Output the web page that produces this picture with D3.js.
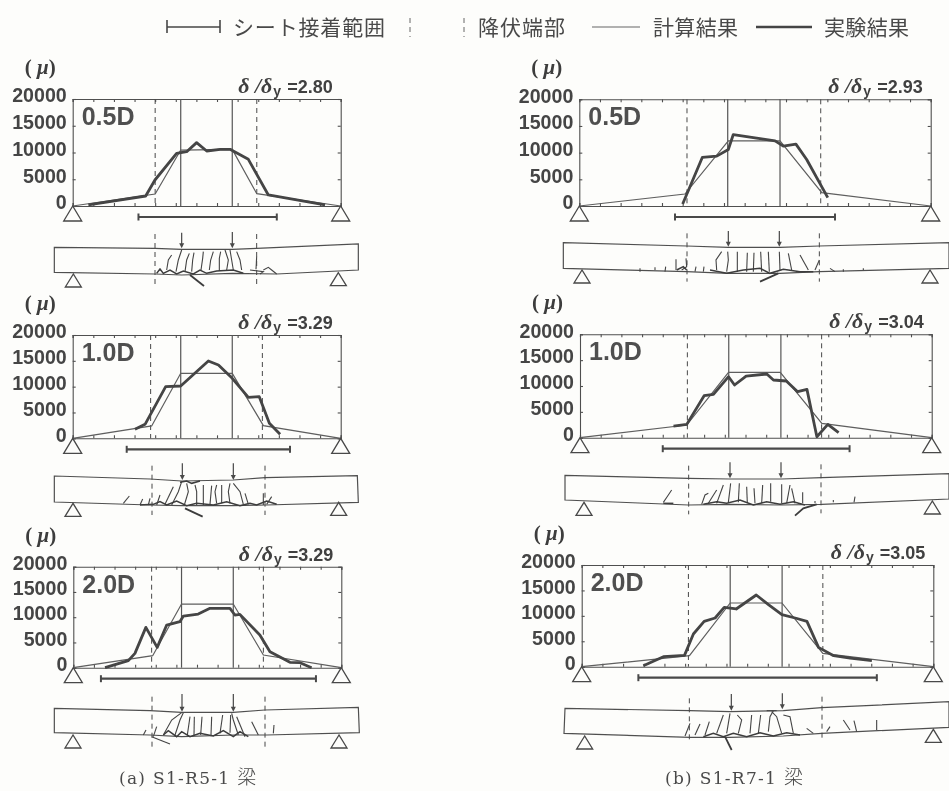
<!DOCTYPE html>
<html>
<head>
<meta charset="utf-8">
<script src="https://cdn.jsdelivr.net/npm/d3@7"></script>
<style>
  html, body { margin: 0; background: #fdfdfb; }
  svg { display: block; }
  .axis .tick text { font: bold 19.6px "Liberation Sans", sans-serif; fill: #454545; }
  .axis path, .axis line { stroke: #505050; stroke-width: 1.1; }
  .unit { font: bold 21px "Liberation Serif", serif; fill: #3c3c3c; }
  .level { font: bold 25px "Liberation Sans", sans-serif; fill: #505050; }
  .ratio { font: bold 18px "Liberation Sans", sans-serif; fill: #3f3f3f; }
  .ratio .greek { font: italic bold 22px "Liberation Serif", serif; }
  .legend-text { font: 21px "Noto Sans CJK JP", sans-serif; fill: #4a4a4a; }
  .caption { font: 17px "DejaVu Serif", serif; fill: #4a4a4a; letter-spacing: 1.3px; }
  .caption .kanji { font: 300 19px "Noto Sans CJK JP", sans-serif; }
</style>
</head>
<body>
<div id="chart"></div>
<script>
// strain readings, x in tick intervals along the span, y in micro strain
const yTicks = [0, 5000, 10000, 15000, 20000]

const calcA1 = [[0,0],[4,2240],[5.24,10460],[7.74,10580],[8.93,2300],[13,0]]
const expA1 = [[.76,190],[3.54,1870],[3.99,4860],[5.04,9840],[5.53,10150],[6.01,11840],[6.5,10280],[7.15,10590],[7.63,10590],[8.52,8720],[9.49,2060],[12.24,190]]
const calcA2 = [[0,0],[3.83,2390],[5.24,12580],[7.74,12580],[9.25,2450],[13,0]]
const expA2 = [[3.02,1740],[3.51,2710],[4.51,10000],[5.24,10130],[6.58,14960],[7.07,14190],[7.74,11610],[8.52,7930],[9.05,8060],[9.54,2900],[10.06,770]]
const calcA3 = [[0,0],[3.85,2380],[5.25,12600],[7.76,12600],[9.22,2500],[13,0]]
const expA3 = [[1.54,0],[2.67,1390],[2.99,2840],[3.52,7990],[4.07,4030],[4.53,8450],[5.17,9110],[5.34,10230],[6.06,10630],[6.63,11750],[7.6,11750],[7.84,10430],[8.08,10560],[9.05,6470],[9.54,3170],[10.51,1060],[11,990],[11.56,0]]
const calcB1 = [[0,0],[5.11,2240],[7.21,12210],[9.71,12210],[11.73,2490],[17,0]]
const expB1 = [[5,370],[5.95,9100],[6.65,9350],[7.21,10590],[7.45,13390],[9.47,12210],[9.87,11210],[10.48,11590],[11,8720],[12.02,1560]]
const calcB2 = [[0,0],[5.16,2450],[7.18,12640],[9.68,12640],[11.69,2770],[17,0]]
const expB2 = [[4.52,2260],[5.16,2580],[6,8130],[6.45,8390],[7.18,11800],[7.47,10190],[8.03,11930],[9.03,12320],[9.35,11160],[9.97,10970],[10.52,8900],[10.97,9350],[11.45,190],[11.98,2580],[12.5,970]]
const calcB3 = [[0,0],[5.21,2160],[7.18,12530],[9.68,12530],[11.66,2620],[17,0]]
const expB3 = [[2.98,200],[3.95,1970],[4.97,2230],[5.4,6430],[5.92,8920],[6.45,9580],[6.89,11680],[7.47,11350],[8.44,14100],[9.03,12200],[9.68,10230],[10.32,9580],[10.89,8920],[11.45,3800],[12.18,2160],[12.98,1700],[14.03,1180]]

const levels = ['0.5D', '1.0D', '2.0D']
const ratiosA = ['2.80', '3.29', '3.29']
const ratiosB = ['2.93', '3.04', '3.05']
const captions = ['(a) S1-R5-1 ', '(b) S1-R7-1 ']

const yieldA = [[4, 8.93], [3.78, 9.2], [3.8, 9.22]]
const yieldB = [[5.21, 11.68], [5.19, 11.68], [5.16, 11.66]]
const loadA = [[5.24, 7.74], [5.24, 7.74], [5.25, 7.76]]
const loadB = [[7.18, 9.71], [7.19, 9.71], [7.18, 9.69]]
const sheetA = [[3.19, 9.9], [2.62, 10.54], [1.34, 11.77]]
const sheetB = [[4.63, 12.37], [4, 13.03], [2.74, 14.27]]

// beam sketches, traced in sketch units (3 units to a pixel of the crop)
const beamA1 = {
  top: [[163,532],[465,535],[545,538],[697,538],[770,535],[1075,522]],
  bottom: [[163,607],[465,612],[545,615],[697,610],[830,612],[1075,600]],
  dashes: [[465,492,648],[770,492,645]], arrows: [[545,488,535],[697,486,535]], supports: [[220,612],[1015,608]],
  cracks: [[[500,600],[505,570],[515,555]],[[528,605],[535,570],[545,540]],[[555,605],[560,570],[568,550]],[[575,605],[578,570],[582,548]],[[603,600],[608,565],[610,545]],[[628,600],[632,570],[640,545]],[[658,603],[658,565],[662,545]],[[680,600],[685,570],[675,540]],[[700,600],[695,570],[690,540]],[[725,600],[720,570],[710,545]],[[768,598],[770,560]],[[750,600],[790,605],[780,612]],[[790,600],[805,592],[815,600],[830,612]]],
  mess: [[[470,610],[480,597],[490,610],[510,600],[530,612],[550,603],[580,612],[600,600],[620,610],[650,603],[700,600],[730,610]]],
  spall: [[[570,615],[612,648]]]
}
const beamA2 = {
  top: [[163,543],[450,552],[545,558],[700,555],[795,548],[1072,542]],
  bottom: [[163,621],[450,630],[545,632],[700,632],[800,630],[1075,622]],
  dashes: [[456,512,660],[795,512,660]], arrows: [[547,505,555],[700,505,555]], supports: [[219,625],[1016,622]],
  cracks: [[[370,625],[388,603]],[[420,630],[428,612]],[[445,630],[450,610]],[[470,630],[480,600]],[[495,628],[520,575]],[[515,630],[535,590],[545,560]],[[553,630],[565,590],[560,565]],[[590,630],[590,590],[585,570]],[[610,630],[610,570]],[[630,628],[635,572]],[[650,625],[645,590],[650,570]],[[665,625],[665,570]],[[690,625],[685,590],[690,565]],[[730,628],[720,590],[700,565]],[[745,628],[735,595]],[[790,630],[790,595]],[[800,628],[815,605]]],
  mess: [[[420,630],[460,628],[480,620],[500,630],[530,618],[560,632],[590,625],[640,630],[680,620],[720,632],[750,625],[770,630],[800,618],[830,628]],[[540,562],[560,558],[575,565],[600,558]]],
  spall: [[[555,640],[608,665]]]
}
const beamA3 = {
  top: [[163,565],[450,572],[545,577],[700,577],[795,570],[1075,562]],
  bottom: [[163,638],[450,645],[545,650],[700,645],[800,645],[1078,638]],
  dashes: [[456,530,680],[795,530,680]], arrows: [[546,522,575],[700,522,575]], supports: [[219,645],[1017,645]],
  cracks: [[[430,645],[438,630]],[[460,650],[470,620]],[[490,645],[515,600],[545,578]],[[525,645],[540,600],[550,578]],[[562,645],[570,590]],[[582,645],[583,590]],[[602,645],[606,590]],[[633,645],[635,590]],[[660,640],[668,585]],[[690,638],[692,585]],[[715,645],[700,600],[695,580]],[[735,650],[710,590]],[[775,645],[755,605]],[[820,640],[822,615]],[[455,650],[510,672]]],
  mess: [[[490,645],[505,632],[530,650],[545,635],[570,650],[600,640],[640,648],[670,632],[700,650],[720,635],[745,650]]],
  spall: []
}
const beamB1 = {
  top: [[190,518],[560,528],[685,532],[840,532],[958,528],[1347,518]],
  bottom: [[190,595],[560,605],[685,610],[840,610],[958,605],[1347,595]],
  dashes: [[561,490,635],[958,490,635]], arrows: [[685,483,530],[838,483,530]], supports: [[246,600],[1290,600]],
  cracks: [[[420,605],[420,595]],[[465,600],[465,592]],[[495,605],[497,590]],[[528,600],[528,568]],[[545,600],[560,590],[558,565]],[[585,605],[588,590]],[[610,605],[612,590]],[[650,600],[648,570],[665,545]],[[680,605],[685,570],[683,545]],[[712,605],[712,545]],[[740,605],[742,548]],[[760,605],[762,548]],[[785,605],[782,545]],[[808,605],[805,545]],[[840,600],[838,545]],[[875,600],[865,550]],[[925,600],[900,555]],[[945,600],[958,570]],[[990,595],[1005,605]],[[1030,605],[1030,598]],[[1090,600],[1090,595]]],
  mess: [[[530,600],[550,590],[560,600]],[[630,600],[680,610],[730,600],[780,595],[810,610],[850,598],[900,605],[940,605]]],
  spall: [[[780,635],[835,610]]]
}
const beamB2 = {
  top: [[195,541],[565,550],[690,552],[845,552],[965,548],[1347,536]],
  bottom: [[195,615],[565,630],[690,628],[845,630],[965,628],[1347,612]],
  dashes: [[566,512,658],[963,508,655]], arrows: [[690,502,550],[843,502,550]], supports: [[252,622],[1297,618]],
  cracks: [[[490,622],[505,600],[515,585]],[[605,628],[615,600],[625,595]],[[625,625],[650,585]],[[650,625],[670,570]],[[685,622],[692,565]],[[715,622],[718,565]],[[742,625],[740,575]],[[765,625],[762,580]],[[785,625],[788,570]],[[812,620],[812,565]],[[845,625],[845,568]],[[860,625],[870,570]],[[885,625],[875,580]],[[908,625],[908,592]],[[945,625],[945,618]],[[1000,622],[1000,615]],[[1062,622],[1065,605]]],
  mess: [[[490,625],[520,625]],[[610,628],[650,620],[680,625],[720,615],[760,630],[800,620],[840,628],[880,620],[915,630]]],
  spall: [[[885,662],[910,640],[950,628]]]
}
const beamB3 = {
  top: [[195,565],[570,572],[690,575],[850,572],[965,563],[1347,545]],
  bottom: [[192,640],[570,652],[690,652],[850,648],[965,640],[1347,622]],
  dashes: [[568,535,668],[966,530,662]], arrows: [[694,522,572],[847,520,568]], supports: [[254,648],[1300,628]],
  cracks: [[[555,648],[570,610]],[[585,645],[600,612]],[[615,645],[628,605]],[[650,640],[670,585]],[[680,640],[690,580]],[[715,640],[725,600],[712,585]],[[750,640],[755,585]],[[775,640],[782,585]],[[805,635],[810,590],[820,572]],[[845,640],[830,590],[815,575]],[[880,640],[870,590],[850,585]],[[940,640],[920,625]],[[980,635],[990,620]],[[1050,630],[1030,600]],[[1070,635],[1062,602]],[[1130,630],[1130,600]],[[800,572],[830,572]]],
  mess: [[[610,650],[640,640],[670,650],[700,640],[740,650],[780,638],[820,648],[860,638],[900,645]]],
  spall: [[[695,690],[675,650]]]
}

const width = 949, height = 791
const ink = '#484848'

const svg = d3.select('#chart').append('svg')
  .attr('width', width)
  .attr('height', height)

// the print is slightly soft
svg.append('filter').attr('id', 'soft')
  .append('feGaussianBlur').attr('stdDeviation', 0.4)

const root = svg.append('g').attr('filter', 'url(#soft)')

const line = d3.line()

function triangle(g, cx, apexY, w, h) {
  g.append('path')
    .attr('d', line([[cx, apexY], [cx - w / 2, apexY + h], [cx + w / 2, apexY + h]]) + 'Z')
    .attr('fill', 'none')
    .attr('stroke', ink)
    .attr('stroke-width', 1.3)
}

function drawPanel(p) {
  const g = root.append('g')

  const x = d3.scaleLinear().domain([0, p.span]).range([p.left, p.right])
  const y = d3.scaleLinear().domain([0, 20000]).range([p.bottom, p.top])
  const path = d3.line().x(d => x(d[0])).y(d => y(d[1]))

  // axes, ticks point inwards on all four sides
  const xTicks = d3.range(0, p.span + 1)
  g.append('g').attr('class', 'axis')
    .attr('transform', 'translate(0,' + p.bottom + ')')
    .call(d3.axisBottom(x).tickValues(xTicks).tickSize(-3).tickFormat(''))
  g.append('g').attr('class', 'axis')
    .attr('transform', 'translate(0,' + p.top + ')')
    .call(d3.axisTop(x).tickValues(xTicks).tickSize(-3).tickFormat(''))
  g.append('g').attr('class', 'axis')
    .attr('transform', 'translate(' + p.right + ',0)')
    .call(d3.axisRight(y).tickValues(yTicks).tickSize(-3).tickFormat(''))
  const yAxis = g.append('g').attr('class', 'axis')
    .attr('transform', 'translate(' + p.left + ',0)')
    .call(d3.axisLeft(y).tickValues(yTicks).tickSize(-3).tickPadding(6).tickFormat(d3.format('d')))
  yAxis.selectAll('.tick text').attr('dy', '0.14em')

  // yield ends and loading points
  p.yieldAt.forEach(v => {
    g.append('line')
      .attr('x1', x(v)).attr('x2', x(v))
      .attr('y1', p.top).attr('y2', p.bottom)
      .attr('stroke', ink).attr('stroke-width', 1).attr('stroke-dasharray', '5,4')
  })
  p.loadAt.forEach(v => {
    g.append('line')
      .attr('x1', x(v)).attr('x2', x(v))
      .attr('y1', p.top).attr('y2', p.bottom)
      .attr('stroke', '#555').attr('stroke-width', 1.2)
  })

  g.append('path')
    .attr('d', path(p.calc))
    .attr('fill', 'none').attr('stroke', '#5e5e5e').attr('stroke-width', 1.2)
  g.append('path')
    .attr('d', path(p.exp))
    .attr('fill', 'none').attr('stroke', '#444').attr('stroke-width', 2.8)
    .attr('stroke-linejoin', 'round')

  triangle(g, x(0), p.bottom, 18, 15)
  triangle(g, x(p.span), p.bottom, 18, 15)

  // sheet bonded range
  const barY = p.bottom + 11
  g.append('line')
    .attr('x1', x(p.sheet[0])).attr('x2', x(p.sheet[1]))
    .attr('y1', barY).attr('y2', barY)
    .attr('stroke', ink).attr('stroke-width', 2.2)
  p.sheet.forEach(v => {
    g.append('line')
      .attr('x1', x(v)).attr('x2', x(v))
      .attr('y1', barY - 3.5).attr('y2', barY + 3.5)
      .attr('stroke', ink).attr('stroke-width', 2)
  })

  g.append('text').attr('class', 'unit')
    .attr('x', p.left - 48).attr('y', p.top - 25)
    .html('( <tspan font-style="italic">μ</tspan>)')
  g.append('text').attr('class', 'level')
    .attr('x', p.left + 9).attr('y', p.top + 26)
    .text(p.level)

  const ratio = g.append('text').attr('class', 'ratio')
    .attr('x', p.right - 8).attr('y', p.top - 6)
    .attr('text-anchor', 'end')
  ratio.append('tspan').attr('class', 'greek').text('δ /δ')
  ratio.append('tspan').attr('font-size', 14).attr('dy', 3).attr('dx', 1).text('y')
  ratio.append('tspan').attr('dy', -3).attr('dx', 1).text(' =' + p.ratio)

  drawBeam(g, p)
}

function drawBeam(g, p) {
  const b = p.beam
  const sx = d3.scaleLinear().domain([0, 300]).range([p.ox, p.ox + 100])
  const sy = d3.scaleLinear().domain([0, 300]).range([p.oy, p.oy + 100])
  const path = d3.line().x(d => sx(d[0])).y(d => sy(d[1]))

  const outline = b.top.concat(b.bottom.slice().reverse())
  g.append('path')
    .attr('d', path(outline) + 'Z')
    .attr('fill', 'none').attr('stroke', '#505050').attr('stroke-width', 1.2)

  g.selectAll('.crack').data(b.cracks).enter().append('path')
    .attr('class', 'crack')
    .attr('d', path)
    .attr('fill', 'none').attr('stroke', '#444').attr('stroke-width', 1.1)
  g.selectAll('.mess').data(b.mess).enter().append('path')
    .attr('class', 'mess')
    .attr('d', path)
    .attr('fill', 'none').attr('stroke', '#3c3c3c').attr('stroke-width', 1.5)
  g.selectAll('.spall').data(b.spall).enter().append('path')
    .attr('class', 'spall')
    .attr('d', path)
    .attr('fill', 'none').attr('stroke', '#3c3c3c').attr('stroke-width', 1.8)

  b.dashes.forEach(d => {
    g.append('line')
      .attr('x1', sx(d[0])).attr('x2', sx(d[0]))
      .attr('y1', sy(d[1])).attr('y2', sy(d[2]))
      .attr('stroke', ink).attr('stroke-width', 1).attr('stroke-dasharray', '5,4')
  })
  b.arrows.forEach(d => {
    g.append('line')
      .attr('x1', sx(d[0])).attr('x2', sx(d[0]))
      .attr('y1', sy(d[1])).attr('y2', sy(d[2]) - 4)
      .attr('stroke', ink).attr('stroke-width', 1.2)
    g.append('path')
      .attr('d', line([[sx(d[0]) - 2.5, sy(d[2]) - 5], [sx(d[0]) + 2.5, sy(d[2]) - 5], [sx(d[0]), sy(d[2])]]) + 'Z')
      .attr('fill', ink)
  })
  b.supports.forEach(d => {
    triangle(g, sx(d[0]), sy(d[1]), 16, 13)
  })
}

const frames = [
  { left: 72.7, right: 340.7, top: 99, bottom: 206, ox: 0, oy: 70 },
  { left: 72.7, right: 340.7, top: 335, bottom: 438.3, ox: 0, oy: 295 },
  { left: 73.3, right: 341.3, top: 566.7, bottom: 667.7, ox: 0, oy: 520 },
  { left: 579.3, right: 930.7, top: 99.3, bottom: 206, ox: 500, oy: 70 },
  { left: 580, right: 931.7, top: 334.3, bottom: 437.7, ox: 500, oy: 295 },
  { left: 581.7, right: 933.3, top: 565, bottom: 666.7, ox: 500, oy: 520 }
]
const calcs = [calcA1, calcA2, calcA3, calcB1, calcB2, calcB3]
const exps = [expA1, expA2, expA3, expB1, expB2, expB3]
const beams = [beamA1, beamA2, beamA3, beamB1, beamB2, beamB3]

frames.forEach((f, i) => {
  const colA = i < 3, row = i % 3
  drawPanel(Object.assign({}, f, {
    span: colA ? 13 : 17,
    calc: calcs[i],
    exp: exps[i],
    beam: beams[i],
    level: levels[row],
    ratio: (colA ? ratiosA : ratiosB)[row],
    yieldAt: (colA ? yieldA : yieldB)[row],
    loadAt: (colA ? loadA : loadB)[row],
    sheet: (colA ? sheetA : sheetB)[row]
  }))
})

// legend
const legend = root.append('g')
legend.append('path')
  .attr('d', line([[167, 20], [167, 33]]) + line([[167, 27], [220, 27]]) + line([[220, 20], [220, 33]]))
  .attr('fill', 'none').attr('stroke', ink).attr('stroke-width', 1.6)
legend.append('text').attr('class', 'legend-text').attr('x', 233).attr('y', 35).attr('textLength', 152).text('シート接着範囲')
;[410, 464].forEach(v => {
  legend.append('line')
    .attr('x1', v).attr('x2', v).attr('y1', 18).attr('y2', 37)
    .attr('stroke', '#666').attr('stroke-width', 1).attr('stroke-dasharray', '5,4')
})
legend.append('text').attr('class', 'legend-text').attr('x', 478).attr('y', 35).attr('textLength', 87).text('降伏端部')
legend.append('line').attr('x1', 592).attr('x2', 640).attr('y1', 27).attr('y2', 27)
  .attr('stroke', '#666').attr('stroke-width', 1.1)
legend.append('text').attr('class', 'legend-text').attr('x', 653).attr('y', 35).attr('textLength', 85).text('計算結果')
legend.append('line').attr('x1', 756).attr('x2', 812).attr('y1', 27).attr('y2', 27)
  .attr('stroke', '#444').attr('stroke-width', 2.4)
legend.append('text').attr('class', 'legend-text').attr('x', 824).attr('y', 35).attr('textLength', 85).text('実験結果')

// captions
captions.forEach((c, i) => {
  const t = root.append('text').attr('class', 'caption')
    .attr('x', i === 0 ? 119 : 665).attr('y', 784)
  t.append('tspan').text(c)
  t.append('tspan').attr('class', 'kanji').text('梁')
})
</script>
</body>
</html>
